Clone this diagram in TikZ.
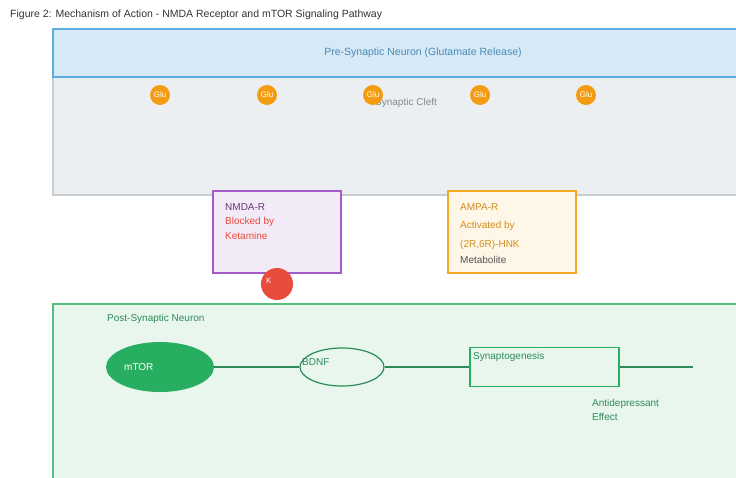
\documentclass[tikz,border=0pt]{standalone}
\usepackage{fontspec}
\setmainfont{Liberation Sans}
\usepackage{xcolor}
\usepackage{tikz}
\usetikzlibrary{positioning,shapes.geometric}
\definecolor{PreBlue}{HTML}{5DADE2}
\definecolor{PreFill}{HTML}{D6E9F7}
\definecolor{CleftFill}{HTML}{ECEFF1}
\definecolor{CleftLine}{HTML}{C9CED3}
\definecolor{GluOrange}{HTML}{F39C12}
\definecolor{NmdaPurple}{HTML}{A55BC7}
\definecolor{NmdaFill}{HTML}{F3EAF7}
\definecolor{AmpaOrange}{HTML}{F5A623}
\definecolor{AmpaFill}{HTML}{FEF6E6}
\definecolor{KetRed}{HTML}{E74C3C}
\definecolor{PostGreen}{HTML}{52BE80}
\definecolor{PostFill}{HTML}{E8F6EE}
\definecolor{DeepGreen}{HTML}{27AE60}
\definecolor{PathGreen}{HTML}{2E8B57}
\definecolor{TextGray}{HTML}{555555}
\tikzset{
  region/.style={line width=1.2pt, inner sep=0pt},
  glu/.style={circle, fill=GluOrange, minimum size=20pt, inner sep=0pt,
    text=white, font=\fontsize{8}{9}\selectfont},
  receptor/.style={line width=1.2pt, minimum width=128pt, minimum height=82pt},
  label/.style={anchor=west, inner sep=0pt, font=\fontsize{10}{12}\selectfont},
  pathline/.style={draw=PathGreen, line width=1.6pt}
}
\begin{document}
\begin{tikzpicture}[x=1pt, y=-1pt]
  \useasboundingbox (0,0) rectangle (736,477);
  \clip (0,0) rectangle (736,477);
  % title
  \node[label, text=black!80, font=\fontsize{10.5}{12}\selectfont] (title) at (10,15)
    {Figure 2: Mechanism of Action - NMDA Receptor and mTOR Signaling Pathway};
  % regions
  \draw[region, draw=CleftLine, fill=CleftFill] (53,77) rectangle (745,195);
  \draw[region, draw=PreBlue, fill=PreFill] (53,29) rectangle (745,77);
  \node[text=PreBlue!80!black, font=\fontsize{10.5}{12}\selectfont] (pre) at (423,53)
    {Pre-Synaptic Neuron (Glutamate Release)};
  \node[label, text=TextGray!70] (cleft) at (375,103) {Synaptic Cleft};
  \foreach \gx/\gn in {160/1,267/2,373/3,480/4,586/5}
    \node[glu] (glu\gn) at (\gx,95) {Glu};
  % receptors
  \node[receptor, draw=NmdaPurple, fill=NmdaFill] (nmda) at (277,232) {};
  \node[label, text=NmdaPurple!60!black] (nmdaname) at (225,207) {NMDA-R};
  \node[label, text=KetRed] (nmdablock) at (225,221.5) {Blocked by};
  \node[label, text=KetRed] (nmdaket) at (225,236) {Ketamine};
  \node[circle, fill=KetRed, minimum size=32pt, inner sep=0pt, text=white,
    font=\fontsize{8}{9}\selectfont] (ket) at (277,284) {};
  \node[label, text=white, font=\fontsize{8}{9}\selectfont] (kettext) at (266,281) {K};
  \node[receptor, draw=AmpaOrange, fill=AmpaFill] (ampa) at (512,232) {};
  \node[label, text=AmpaOrange!85!black] (ampaname) at (460,207) {AMPA-R};
  \node[label, text=AmpaOrange!85!black] (ampaact) at (460,226) {Activated by};
  \node[label, text=AmpaOrange!85!black] (ampahnk) at (460,245) {(2R,6R)-HNK};
  \node[label, text=TextGray] (ampamet) at (460,259.5) {Metabolite};
  % post-synaptic side
  \draw[region, draw=PostGreen, fill=PostFill] (53,304) rectangle (745,490);
  \node[label, text=PathGreen] (post) at (107,319) {Post-Synaptic Neuron};
  \node[ellipse, fill=DeepGreen, minimum width=108pt, minimum height=50pt] (mtor) at (160,367) {};
  \node[label, text=white] (mtortext) at (124,367) {mTOR};
  \node[ellipse, draw=PathGreen, line width=1.2pt, minimum width=84pt, minimum height=38pt] (bdnf) at (342,367) {};
  \node[label, text=PathGreen] (bdnftext) at (302,362) {BDNF};
  \node[draw=DeepGreen, line width=1.2pt, minimum width=149pt, minimum height=39pt] (synap) at (544.5,367) {};
  \node[label, text=PathGreen] (synaptext) at (473,357) {Synaptogenesis};
  \coordinate (effect) at (693,367);
  \draw[pathline] (mtor) -- (bdnf);
  \draw[pathline] (bdnf) -- (synap);
  \draw[pathline] (synap) -- (effect);
  \node[label, text=PathGreen, align=left] (antidep) at (592,409.5) {Antidepressant\\[2pt]Effect};
\end{tikzpicture}
\end{document}
